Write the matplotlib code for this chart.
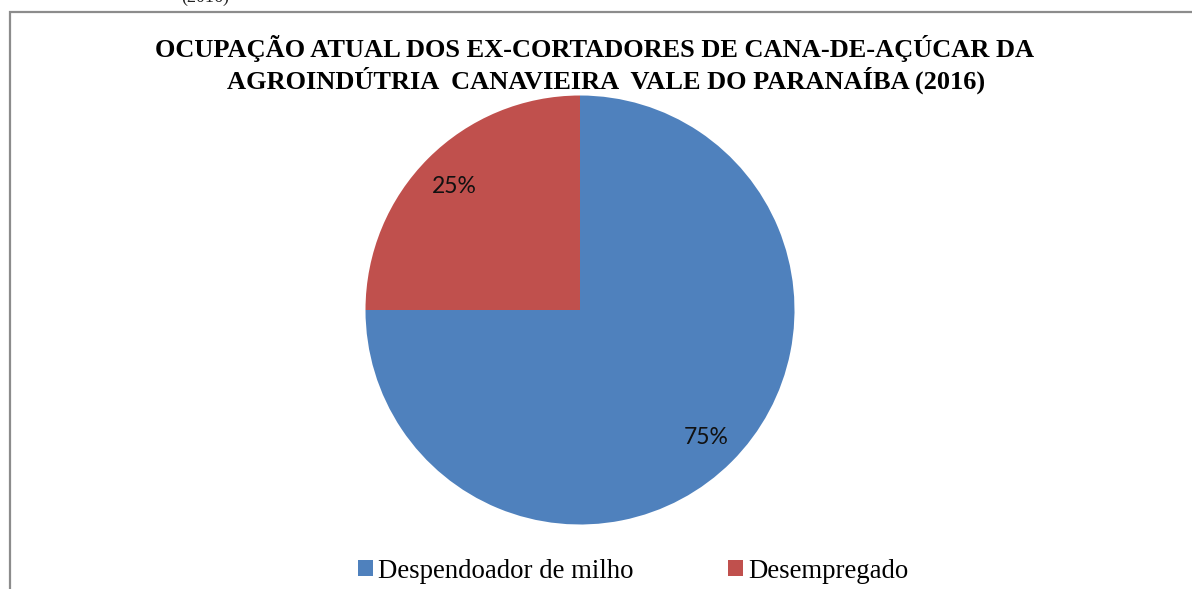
import matplotlib
matplotlib.use("Agg")
import matplotlib.pyplot as plt
from matplotlib.patches import Rectangle

categories = ["Despendoador de milho", "Desempregado"]
values = [75, 25]
colors = ["#4F81BD", "#C0504D"]
title_lines = ["OCUPAÇÃO ATUAL DOS EX-CORTADORES DE CANA-DE-AÇÚCAR DA",
               "AGROINDÚTRIA  CANAVIEIRA  VALE DO PARANAÍBA (2016)"]

W, H = 1192, 589
fig = plt.figure(figsize=(W / 100, H / 100), dpi=100)
fig.patch.set_facecolor("white")

# outer chart border (extends beyond right/bottom edge)
fig.patches.append(Rectangle((9.5 / W, -0.2), 1.2, 1 - 12 / H + 0.2,
                             transform=fig.transFigure, fill=False,
                             edgecolor="#8c8c8c", linewidth=1.6))

# cropped caption above the frame
fig.text(205 / W, 1 - (-3) / H, "(2016)", ha="center", va="center",
         fontsize=13, family="Liberation Serif", color="#222222")

cx, cy, r = 580, 310, 214.5
ax = fig.add_axes([(cx - r) / W, (H - cy - r) / H, 2 * r / W, 2 * r / H])
wedges, texts, autotexts = ax.pie(values, colors=colors, startangle=90,
                                  counterclock=False, autopct="%1.0f%%",
                                  pctdistance=0.83,
                                  wedgeprops=dict(linewidth=0),
                                  textprops=dict(fontsize=16.5, family="Lato",
                                                 color="#111111"))
for t in autotexts:
    t.set_va("center_baseline")
ax.set_xlim(-1, 1)
ax.set_ylim(-1, 1)
ax.set_aspect("auto")

fig.text(595 / W, 1 - 48 / H, title_lines[0], ha="center", va="center",
         fontsize=19, fontweight="bold", family="Liberation Serif")
fig.text(606 / W, 1 - 80 / H, title_lines[1], ha="center", va="center",
         fontsize=19, fontweight="bold", family="Liberation Serif")

leg = fig.legend(wedges, categories, loc="center", ncol=2,
                 bbox_to_anchor=(633 / W, 1 - 571 / H), frameon=False,
                 prop=dict(family="Liberation Serif", size=19.3),
                 handlelength=0.56, handleheight=0.56, handletextpad=0.2,
                 columnspacing=3.5, borderpad=0)

fig.savefig("out.png", dpi=100)
